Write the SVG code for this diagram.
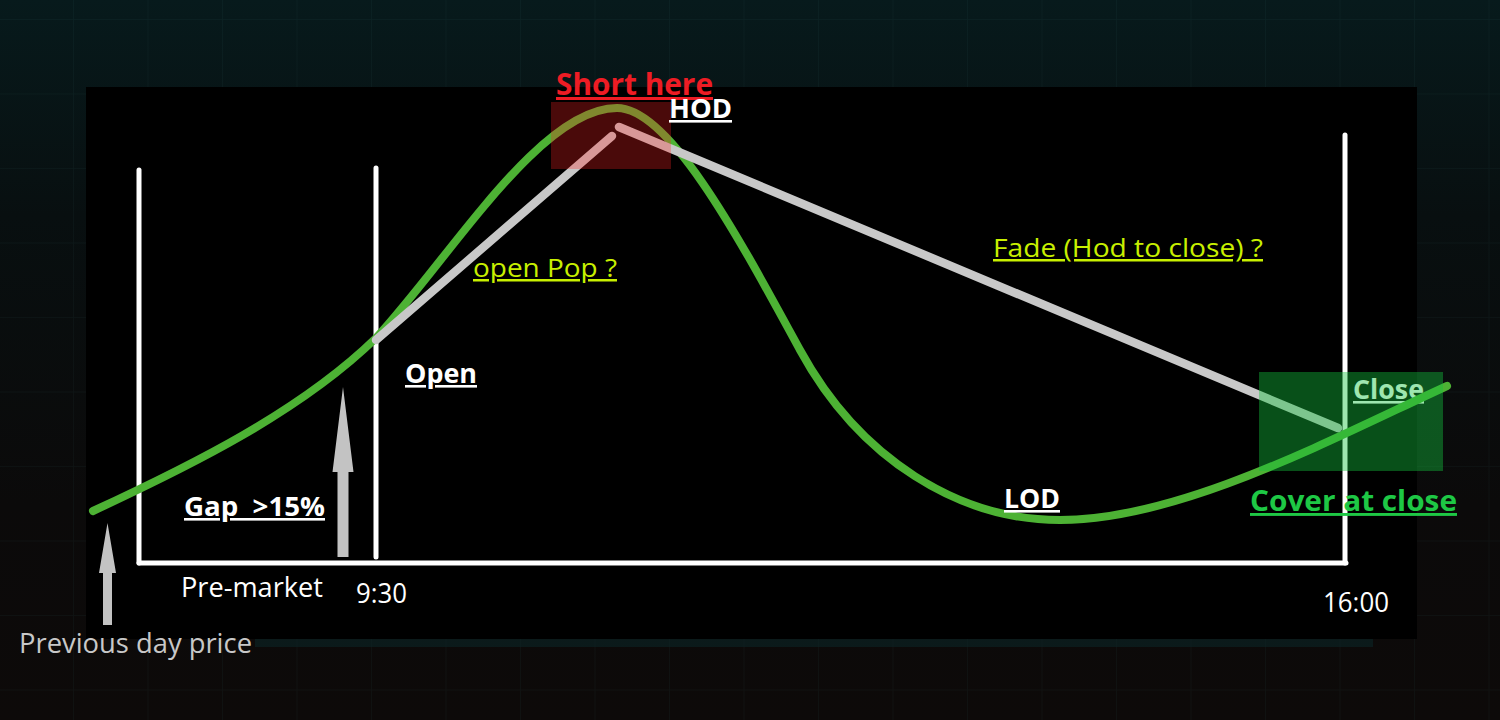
<svg xmlns="http://www.w3.org/2000/svg" width="1500" height="720" viewBox="0 0 1500 720">
  <defs>
    <linearGradient id="bg" x1="0" y1="0" x2="0" y2="1">
      <stop offset="0" stop-color="#071a1c"/>
      <stop offset="0.3" stop-color="#080f10"/>
      <stop offset="0.7" stop-color="#0b0a0a"/>
      <stop offset="1" stop-color="#0d0a09"/>
    </linearGradient>
    <pattern id="grid" x="73" y="19" width="74.5" height="74.5" patternUnits="userSpaceOnUse">
      <path d="M0,0 V74.5 M0,0 H74.5" fill="none" stroke="#4fa0a0" stroke-opacity="0.06" stroke-width="1.5"/>
    </pattern>
  </defs>
  <style>
    .axis { stroke: #ffffff; stroke-width: 5; stroke-linecap: round; fill: none; }
    .price { stroke: #4db234; stroke-width: 8; stroke-linecap: round; fill: none; }
    .guide { stroke: #c8c8c8; stroke-width: 8.5; stroke-linecap: round; fill: none; }
    .arrow { fill: #c3c3c3; }
    .lbl { font-family: "Open Sans", "Noto Sans", "Liberation Sans", sans-serif; }
    .bold { font-weight: 700; font-size: 26px; fill: #ffffff; text-decoration: underline; }
    .q { font-size: 25px; fill: #c8f000; text-decoration: underline; }
    .time { font-size: 27px; fill: #ffffff; }
  </style>

  <!-- background -->
  <rect x="0" y="0" width="1500" height="720" fill="url(#bg)"/>
  <rect x="0" y="0" width="1500" height="720" fill="url(#grid)"/>
  <rect x="255" y="639" width="1118" height="8" fill="#0b2426" opacity="0.6"/>
  <rect x="86" y="87" width="1331" height="552" fill="#000000"/>

  <!-- axes -->
  <g id="axes">
    <line class="axis" x1="139" y1="170" x2="139" y2="563"/>
    <line class="axis" x1="376" y1="168" x2="376" y2="557"/>
    <line class="axis" x1="1345" y1="135" x2="1345" y2="563"/>
    <line class="axis" x1="139" y1="563" x2="1346" y2="563"/>
  </g>

  <g id="label-close">
    <text class="lbl bold" x="1353" y="399" textLength="71" lengthAdjust="spacingAndGlyphs">Close</text>
  </g>

  <!-- connectors: price curve and guide lines -->
  <g id="connectors">
    <path id="price-curve" class="price" d="M93,511 C190,466 300,412 376,338 C450,258 540,108 617,108 C670,108 740,240 800,350 C860,460 960,520 1060,520 C1180,520 1330,440 1447,386"/>
    <line id="open-pop" class="guide" x1="376" y1="340" x2="612" y2="136"/>
    <line id="fade" class="guide" x1="619" y1="127" x2="1338" y2="428"/>
  </g>

  <!-- highlight boxes -->
  <g id="short-box">
    <rect x="551" y="102" width="120" height="67" fill="#ff2222" fill-opacity="0.29"/>
  </g>
  <g id="cover-box">
    <rect x="1259" y="372" width="184" height="99" fill="#14c33c" fill-opacity="0.41"/>
  </g>

  <!-- arrows -->
  <g id="gap-arrow">
    <polygon class="arrow" points="343,387 353.5,472 348.5,472 348.5,557 337.5,557 337.5,472 332.5,472"/>
  </g>
  <g id="prev-arrow">
    <polygon class="arrow" points="107.5,523 116,573 112,573 112,625 103,625 103,573 99,573"/>
  </g>

  <!-- labels -->
  <g id="label-short-here">
    <text class="lbl" x="556" y="95" font-size="30" font-weight="700" fill="#ee1c24" text-decoration="underline" textLength="157" lengthAdjust="spacingAndGlyphs">Short here</text>
  </g>
  <g id="label-hod">
    <text class="lbl bold" x="669" y="118" textLength="63" lengthAdjust="spacingAndGlyphs">HOD</text>
  </g>
  <g id="label-open-pop">
    <text class="lbl q" x="473" y="277" textLength="144" lengthAdjust="spacingAndGlyphs">open Pop ?</text>
  </g>
  <g id="label-fade">
    <text class="lbl q" x="993" y="257" font-size="26" textLength="270" lengthAdjust="spacingAndGlyphs">Fade (Hod to close) ?</text>
  </g>
  <g id="label-open">
    <text class="lbl bold" x="405" y="383" textLength="72" lengthAdjust="spacingAndGlyphs">Open</text>
  </g>
  <g id="label-gap">
    <text class="lbl bold" x="184" y="516" textLength="141" lengthAdjust="spacingAndGlyphs" xml:space="preserve">Gap  &gt;15%</text>
  </g>
  <g id="label-lod">
    <text class="lbl bold" x="1004" y="508" textLength="56" lengthAdjust="spacingAndGlyphs">LOD</text>
  </g>
  <g id="label-cover">
    <text class="lbl" x="1250" y="511" font-size="29" font-weight="700" fill="#1ec845" text-decoration="underline" textLength="207" lengthAdjust="spacingAndGlyphs">Cover at close</text>
  </g>
  <g id="label-premarket">
    <text class="lbl time" x="181" y="597" textLength="142" lengthAdjust="spacingAndGlyphs">Pre-market</text>
  </g>
  <g id="label-930">
    <text class="lbl time" x="356" y="603" textLength="51" lengthAdjust="spacingAndGlyphs">9:30</text>
  </g>
  <g id="label-1600">
    <text class="lbl time" x="1323" y="612" textLength="66" lengthAdjust="spacingAndGlyphs">16:00</text>
  </g>
  <g id="label-prev">
    <text class="lbl" x="19" y="653" font-size="27" fill="#c8c8c8" textLength="233" lengthAdjust="spacingAndGlyphs">Previous day price</text>
  </g>
</svg>
